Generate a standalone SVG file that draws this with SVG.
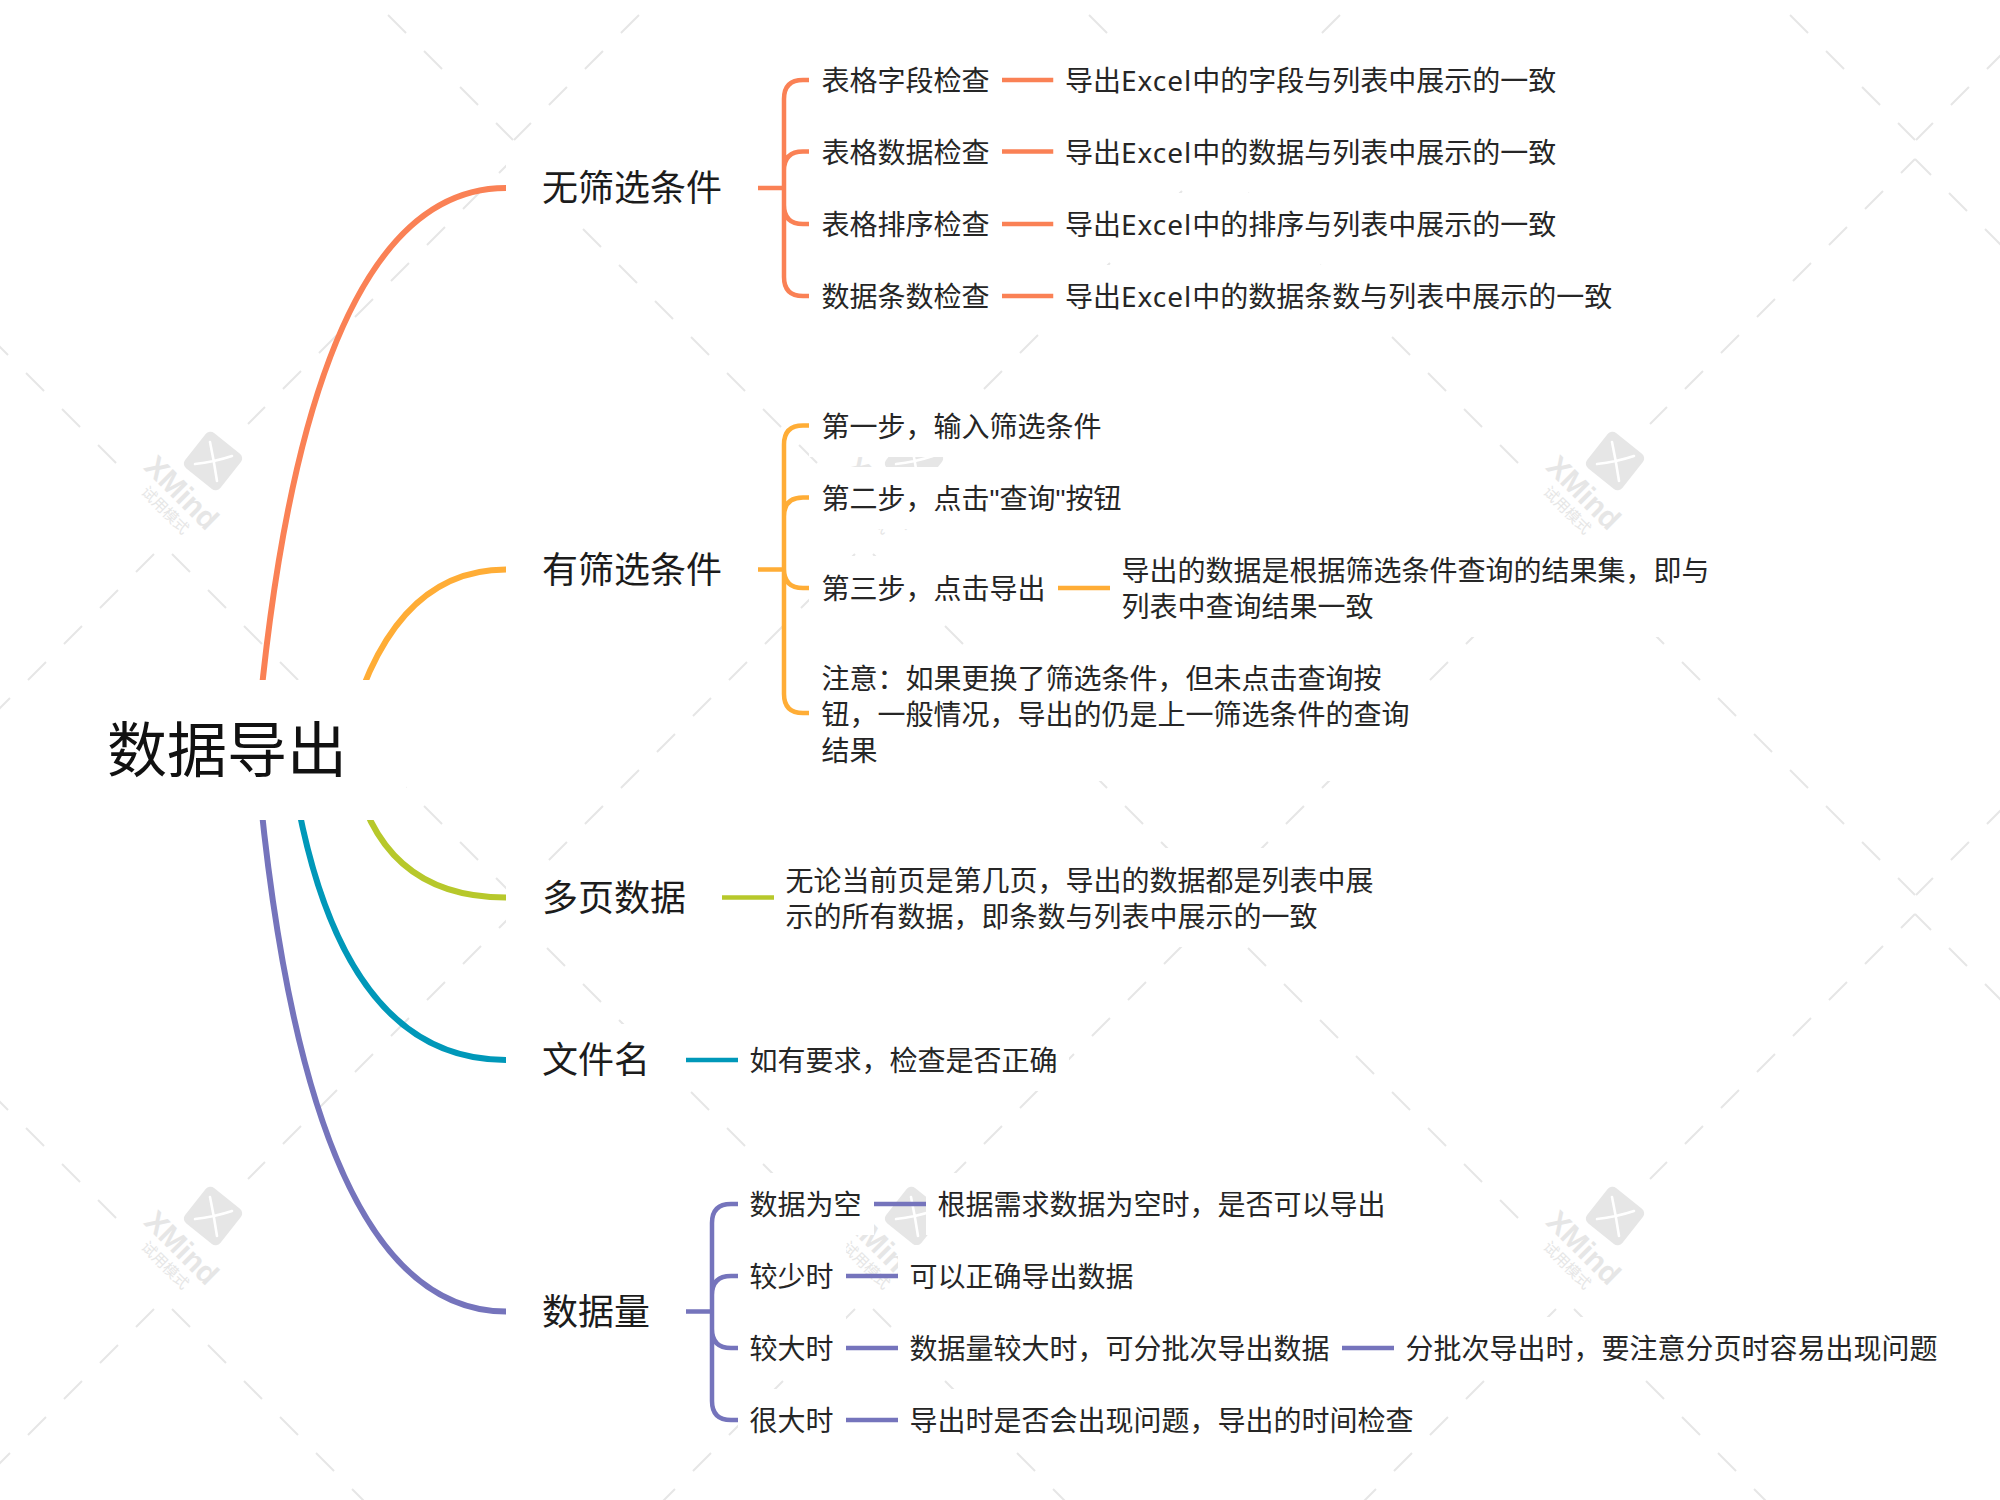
<svg xmlns="http://www.w3.org/2000/svg" xmlns:xlink="http://www.w3.org/1999/xlink" width="2000" height="1500" viewBox="0 0 2000 1500">
<style>
text{font-family:"Noto Sans CJK SC","Noto Sans",sans-serif;fill:#262626}
.root{font-size:60px;fill:#111}
.main{font-size:36px;fill:#1c1c1c}
.sub{font-size:28px}
.lat{font-family:"Noto Sans",sans-serif;letter-spacing:1px}
.q{font-family:"Liberation Sans",sans-serif}
.bg{fill:#fff}
.c{fill:none;stroke-linecap:butt}
.m{stroke-width:6}
.b{stroke-width:4.500}
.o{stroke:#FA8155}.y{stroke:#FFAD36}.g{stroke:#B7C82B}.t{stroke:#0098B9}.p{stroke:#7574BC}
.d{fill:none;stroke:#e6e6e6;stroke-width:2}
.wt{font-family:"Liberation Sans",sans-serif;font-weight:700;font-size:30px;fill:#e6e6e6}
.ws{font-size:15px;fill:#e6e6e6}
</style>
<defs>
<g id="wm-lines">
<path class="d" stroke-dasharray="25.46 25.46" stroke-dashoffset="-12.73" d="M163 545L513 895M163 545L-187 895"/>
<path class="d" stroke-dasharray="25.46 25.46" stroke-dashoffset="2.83" d="M513 159L818 464"/>
<path class="d" stroke-dasharray="25.46 25.46" stroke-dashoffset="5.66" d="M513 159L248 424"/>
</g>
<g id="wm-logo">
<rect x="190.500" y="438.500" width="45" height="45" rx="6" fill="#e6e6e6" transform="rotate(38.5 213 461)"/>
<path d="M210 442Q214 461 217 481M195 464Q214 462 232 456" fill="none" stroke="#fff" stroke-width="2.6" stroke-linecap="round"/>
<text class="wt" x="174.500" y="500" text-anchor="middle" transform="rotate(45 174.500 500)">XMind</text>
<text class="ws" x="161.500" y="514" text-anchor="middle" transform="rotate(45 161.500 514)">试用模式</text>
</g>
</defs>
<g id="watermark">
<use xlink:href="#wm-lines" x="-701" y="-755"/><use xlink:href="#wm-lines" x="0" y="-755"/><use xlink:href="#wm-lines" x="701" y="-755"/><use xlink:href="#wm-lines" x="1402" y="-755"/><use xlink:href="#wm-lines" x="2103" y="-755"/>
<use xlink:href="#wm-lines" x="-701" y="0"/><use xlink:href="#wm-lines" x="0" y="0"/><use xlink:href="#wm-lines" x="701" y="0"/><use xlink:href="#wm-lines" x="1402" y="0"/><use xlink:href="#wm-lines" x="2103" y="0"/>
<use xlink:href="#wm-lines" x="-701" y="755"/><use xlink:href="#wm-lines" x="0" y="755"/><use xlink:href="#wm-lines" x="701" y="755"/><use xlink:href="#wm-lines" x="1402" y="755"/><use xlink:href="#wm-lines" x="2103" y="755"/>
<use xlink:href="#wm-logo" x="0" y="0"/><use xlink:href="#wm-logo" x="701" y="0"/><use xlink:href="#wm-logo" x="1402" y="0"/>
<use xlink:href="#wm-logo" x="0" y="755"/><use xlink:href="#wm-logo" x="701" y="755"/><use xlink:href="#wm-logo" x="1402" y="755"/>
</g>
<g id="connectors">
<path class="c m o" d="M256 750Q303 188 506 188"/>
<path class="c m y" d="M344 750Q386 569.500 506 569.500"/>
<path class="c m g" d="M350 750Q371 897.500 506 897.500"/>
<path class="c m t" d="M289 750Q331 1060 506 1060"/>
<path class="c m p" d="M256 750Q303 1311.500 506 1311.500"/>
<path class="c b o" d="M758 188H784M809 80H803Q784 80 784 99V277Q784 296 803 296H809M809 151.500H803Q784 151.500 784 170.500M809 224H803Q784 224 784 205M1002 80H1053.500M1002 151.500H1053.500M1002 224H1053.500M1002 296H1053.500"/>
<path class="c b y" d="M758 569.500H784M809 425.500H803Q784 425.500 784 444.500V694Q784 713 803 713H809M809 497.500H803Q784 497.500 784 516.500M809 588H803Q784 588 784 569M1058 588H1110"/>
<path class="c b g" d="M722 897.500H774"/>
<path class="c b t" d="M686 1060H738"/>
<path class="c b p" d="M686 1311.500H712M738 1204H731Q712 1204 712 1223V1401Q712 1420 731 1420H738M738 1276H731Q712 1276 712 1295M738 1348H731Q712 1348 712 1329M874 1204H926M846 1276H898M846 1348H898M846 1420H898M1342 1348H1394"/>
</g>
<g id="root"><rect class="bg" x="46" y="680" width="360" height="140"/><text class="root" x="107" y="772">数据导出</text></g>
<g id="n1"><rect class="bg" x="506" y="152" width="252" height="72"/><text class="main" x="542" y="201">无筛选条件</text></g>
<g id="n11"><rect class="bg" x="809" y="49" width="193" height="62"/><text class="sub" x="821.500" y="91">表格字段检查</text></g>
<g id="n111"><rect class="bg" x="1053.500" y="49" width="513" height="62"/><text class="sub" x="1065" y="91">导出<tspan class="lat">Excel</tspan>中的字段与列表中展示的一致</text></g>
<g id="n12"><rect class="bg" x="809" y="120.500" width="193" height="62"/><text class="sub" x="821.500" y="162.500">表格数据检查</text></g>
<g id="n121"><rect class="bg" x="1053.500" y="120.500" width="513" height="62"/><text class="sub" x="1065" y="162.500">导出<tspan class="lat">Excel</tspan>中的数据与列表中展示的一致</text></g>
<g id="n13"><rect class="bg" x="809" y="193" width="193" height="62"/><text class="sub" x="821.500" y="235">表格排序检查</text></g>
<g id="n131"><rect class="bg" x="1053.500" y="193" width="513" height="62"/><text class="sub" x="1065" y="235">导出<tspan class="lat">Excel</tspan>中的排序与列表中展示的一致</text></g>
<g id="n14"><rect class="bg" x="809" y="265" width="193" height="62"/><text class="sub" x="821.500" y="307">数据条数检查</text></g>
<g id="n141"><rect class="bg" x="1053.500" y="265" width="570" height="62"/><text class="sub" x="1065" y="307">导出<tspan class="lat">Excel</tspan>中的数据条数与列表中展示的一致</text></g>
<g id="n2"><rect class="bg" x="506" y="533.500" width="252" height="72"/><text class="main" x="542" y="582.500">有筛选条件</text></g>
<g id="n21"><rect class="bg" x="809" y="395" width="305" height="62"/><text class="sub" x="821.500" y="437">第一步，输入筛选条件</text></g>
<g id="n22"><rect class="bg" x="809" y="467" width="325" height="62"/><text class="sub" x="821.500" y="509">第二步，点击<tspan class="q">"</tspan>查询<tspan class="q">"</tspan>按钮</text></g>
<g id="n23"><rect class="bg" x="809" y="556" width="249" height="64"/><text class="sub" x="821.500" y="599">第三步，点击导出</text></g>
<g id="n231"><rect class="bg" x="1110" y="539" width="611" height="98"/><text class="sub" x="1121.500" y="581">导出的数据是根据筛选条件查询的结果集，即与<tspan x="1121.500" dy="36">列表中查询结果一致</tspan></text></g>
<g id="n24"><rect class="bg" x="809" y="647" width="613" height="134"/><text class="sub" x="821.500" y="689">注意：如果更换了筛选条件，但未点击查询按<tspan x="821.500" dy="36">钮，一般情况，导出的仍是上一筛选条件的查询</tspan><tspan x="821.500" dy="36">结果</tspan></text></g>
<g id="n3"><rect class="bg" x="506" y="861.500" width="216" height="72"/><text class="main" x="542" y="910.500">多页数据</text></g>
<g id="n31"><rect class="bg" x="774" y="848" width="611" height="99"/><text class="sub" x="785.500" y="891">无论当前页是第几页，导出的数据都是列表中展<tspan x="785.500" dy="36">示的所有数据，即条数与列表中展示的一致</tspan></text></g>
<g id="n4"><rect class="bg" x="506" y="1024" width="180" height="72"/><text class="main" x="542" y="1073">文件名</text></g>
<g id="n41"><rect class="bg" x="738" y="1029" width="331" height="62"/><text class="sub" x="749.500" y="1071">如有要求，检查是否正确</text></g>
<g id="n5"><rect class="bg" x="506" y="1275.500" width="180" height="72"/><text class="main" x="542" y="1324.500">数据量</text></g>
<g id="n51"><rect class="bg" x="738" y="1173" width="136" height="62"/><text class="sub" x="749.500" y="1215">数据为空</text></g>
<g id="n511"><rect class="bg" x="926" y="1173" width="471" height="62"/><text class="sub" x="937.500" y="1215">根据需求数据为空时，是否可以导出</text></g>
<g id="n52"><rect class="bg" x="738" y="1245" width="108" height="62"/><text class="sub" x="749.500" y="1287">较少时</text></g>
<g id="n521"><rect class="bg" x="898" y="1245" width="247" height="62"/><text class="sub" x="909.500" y="1287">可以正确导出数据</text></g>
<g id="n53"><rect class="bg" x="738" y="1317" width="108" height="62"/><text class="sub" x="749.500" y="1359">较大时</text></g>
<g id="n531"><rect class="bg" x="898" y="1317" width="444" height="62"/><text class="sub" x="909.500" y="1359">数据量较大时，可分批次导出数据</text></g>
<g id="n532"><rect class="bg" x="1394" y="1317" width="556" height="62"/><text class="sub" x="1405.500" y="1359">分批次导出时，要注意分页时容易出现问题</text></g>
<g id="n54"><rect class="bg" x="738" y="1389" width="108" height="62"/><text class="sub" x="749.500" y="1431">很大时</text></g>
<g id="n541"><rect class="bg" x="898" y="1389" width="529" height="62"/><text class="sub" x="909.500" y="1431">导出时是否会出现问题，导出的时间检查</text></g>
</svg>
